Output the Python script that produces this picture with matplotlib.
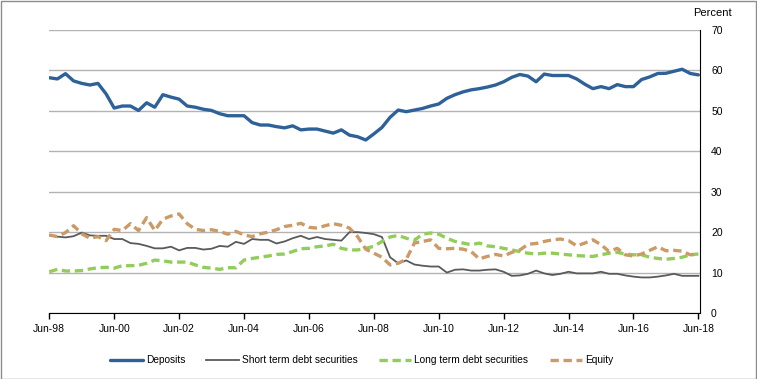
import numpy as np
import matplotlib
matplotlib.use("Agg")
import matplotlib.pyplot as plt
from matplotlib.patches import Rectangle

plt.rcParams['font.family'] = ['Liberation Sans', 'DejaVu Sans']

# ----------------------------------------------------------------------------
# Data: quarterly, Jun-98 to Jun-18 (per cent of total)
# ----------------------------------------------------------------------------
tick_labels = ['Jun-98', 'Jun-00', 'Jun-02', 'Jun-04', 'Jun-06', 'Jun-08',
               'Jun-10', 'Jun-12', 'Jun-14', 'Jun-16', 'Jun-18']

deposits = [58.2, 57.9, 59.2, 57.4, 56.8, 56.4, 56.8, 54.2, 50.7, 51.2,
            51.2, 50.1, 52.0, 50.9, 54.0, 53.4, 52.9, 51.2, 50.9, 50.4,
            50.1, 49.3, 48.8, 48.8, 48.8, 47.1, 46.5, 46.5, 46.1, 45.8,
            46.3, 45.3, 45.5, 45.5, 45.0, 44.5, 45.3, 44.0, 43.6, 42.8,
            44.3, 45.9, 48.4, 50.2, 49.8, 50.2, 50.6, 51.2, 51.7, 53.1,
            54.0, 54.7, 55.2, 55.5, 55.9, 56.4, 57.2, 58.3, 59.0, 58.6,
            57.2, 59.1, 58.75, 58.75, 58.75, 57.9, 56.6, 55.5, 56.0, 55.5,
            56.5, 56.0, 56.0, 57.75, 58.4, 59.25, 59.3, 59.8, 60.3, 59.25,
            58.9]

short_term = [19.2, 18.9, 18.7, 19.0, 19.9, 19.2, 19.1, 19.1, 18.3, 18.3,
              17.3, 17.1, 16.6, 16.0, 16.0, 16.4, 15.5, 16.1, 16.1, 15.7,
              15.9, 16.6, 16.4, 17.6, 17.1, 18.3, 18.1, 18.1, 17.2, 17.7,
              18.5, 19.1, 18.3, 18.8, 18.3, 18.1, 17.9, 20.0, 20.0, 19.8,
              19.5, 18.8, 13.8, 12.3, 13.0, 12.0, 11.7, 11.5, 11.5, 10.0,
              10.7, 10.8, 10.5, 10.5, 10.7, 10.8, 10.2, 9.2, 9.3, 9.7,
              10.5, 9.8, 9.4, 9.7, 10.2, 9.8, 9.8, 9.8, 10.2, 9.7,
              9.7, 9.3, 9.0, 8.8, 8.8, 9.0, 9.3, 9.7, 9.2, 9.2,
              9.2]

long_term = [10.2, 10.8, 10.4, 10.4, 10.5, 10.9, 11.2, 11.3, 11.1, 11.7,
             11.7, 11.8, 12.3, 13.1, 12.9, 12.6, 12.6, 12.6, 11.9, 11.3,
             11.1, 10.8, 11.2, 11.2, 13.1, 13.5, 13.8, 14.1, 14.5, 14.6,
             15.2, 15.9, 16.0, 16.4, 16.6, 17.0, 16.0, 15.6, 15.6, 16.0,
             16.5, 17.7, 18.8, 19.2, 18.5, 18.0, 19.5, 19.8, 19.5, 18.5,
             17.7, 17.3, 16.9, 17.3, 16.6, 16.4, 16.0, 15.6, 15.2, 14.8,
             14.6, 14.8, 14.8, 14.6, 14.4, 14.2, 14.1, 14.0, 14.4, 14.8,
             15.0, 14.6, 14.4, 14.4, 13.8, 13.5, 13.3, 13.5, 13.8, 14.4,
             14.6]

equity = [19.3, 18.9, 19.9, 21.6, 19.6, 18.5, 18.9, 17.9, 20.7, 20.4,
          22.1, 20.4, 23.6, 20.4, 23.2, 24.0, 24.5, 22.1, 20.7, 20.4,
          20.6, 20.2, 19.5, 20.2, 19.3, 18.9, 19.6, 20.0, 20.6, 21.4,
          21.7, 22.2, 21.2, 21.0, 21.6, 22.1, 21.7, 21.0, 18.9, 15.8,
          14.8, 13.8, 11.9, 12.3, 13.3, 17.3, 17.7, 18.1, 16.0, 15.9,
          16.0, 15.8, 15.2, 13.4, 14.0, 14.5, 14.1, 15.0, 15.6, 17.0,
          17.2, 17.7, 18.1, 18.3, 17.9, 16.6, 17.3, 18.1, 16.9, 15.2,
          16.0, 14.4, 14.1, 14.6, 15.5, 16.4, 15.4, 15.5, 15.3, 14.4,
          14.6]

x = np.arange(len(deposits))

# ----------------------------------------------------------------------------
# Figure
# ----------------------------------------------------------------------------
fig = plt.figure(figsize=(7.57, 3.79), dpi=100)
ax = fig.add_axes([0.0651, 0.1741, 0.8596, 0.7467])

ax.plot(x, deposits, color='#2F6199', lw=2.4, label='Deposits',
        solid_capstyle='round', zorder=5)
ax.plot(x, short_term, color='#5A5A5A', lw=1.3,
        label='Short term debt securities', zorder=3)
ax.plot(x, long_term, color='#92CD5A', lw=2.4, dashes=(2.5, 1.4),
        label='Long term debt securities', zorder=4)
ax.plot(x, equity, color='#CC9A66', lw=2.4, dashes=(2.5, 1.4),
        label='Equity', zorder=4)

ax.set_xlim(0, 80.2)
ax.set_ylim(0, 70)

# right-hand y axis
ax.yaxis.tick_right()
ax.set_yticks(range(0, 71, 10))
ax.tick_params(axis='y', length=0, pad=8, labelsize=7.5)
ax.grid(axis='y', color='#B3B3B3', lw=1)
ax.set_axisbelow(True)

ax.set_xticks(np.arange(0, 81, 8))
ax.set_xticklabels(tick_labels)
ax.tick_params(axis='x', length=4, width=1, direction='out', pad=4,
               labelsize=7.5, color='black')

for side in ['left', 'top']:
    ax.spines[side].set_visible(False)
ax.spines['right'].set_color('black')
ax.spines['bottom'].set_color('black')

fig.text(0.941, 0.966, 'Percent', ha='center', va='center', fontsize=8)

fig.legend(loc='center', bbox_to_anchor=(0.478, 0.05), ncol=4,
           frameon=False, fontsize=7.3, handlelength=3.2, handletextpad=0.3,
           columnspacing=2.1)

# thin grey border around the whole figure
fig.patches.append(Rectangle((0.001, 0.001), 0.998, 0.997,
                             transform=fig.transFigure, fill=False,
                             edgecolor='#8C8C8C', lw=1))

plt.savefig('out.png', dpi=100)
